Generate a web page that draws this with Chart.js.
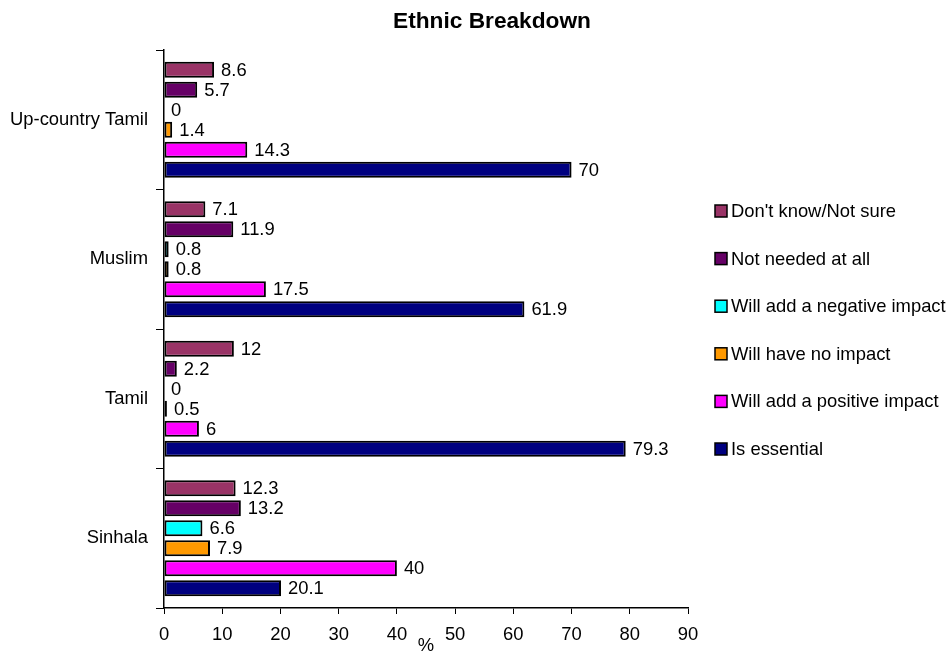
<!DOCTYPE html>
<html>
<head>
<meta charset="utf-8">
<script src="https://cdn.jsdelivr.net/npm/chart.js@4.4.1/dist/chart.umd.min.js"></script>
<style>
  html,body{margin:0;padding:0;background:#fff;}
  #wrap{width:951px;height:653px;position:relative;}
</style>
</head>
<body>
<div id="wrap"><canvas id="chart"></canvas></div>
<script>
// categories, top to bottom
const groups = ['Up-country Tamil','Muslim','Tamil','Sinhala'];
const seriesNames = ["Don't know/Not sure",'Not needed at all','Will add a negative impact','Will have no impact','Will add a positive impact','Is essential'];
const seriesColors = ['#993366','#660066','#00FFFF','#FF9900','#FF00FF','#000080'];
// values per series, one per group
const dontKnow  = [8.6, 7.1, 12, 12.3];
const notNeeded = [5.7, 11.9, 2.2, 13.2];
const negative  = [0, 0.8, 0, 6.6];
const noImpact  = [1.4, 0.8, 0.5, 7.9];
const positive  = [14.3, 17.5, 6, 40];
const essential = [70, 61.9, 79.3, 20.1];
const xTicks = [0,10,20,30,40,50,60,70,80,90];
const chartTitle = 'Ethnic Breakdown';

const seriesValues = [dontKnow, notNeeded, negative, noImpact, positive, essential];
const FONT = "'Liberation Sans', Arial, sans-serif";
const FS = 18.4;
Chart.defaults.font.family = FONT;
Chart.defaults.font.size = FS;
Chart.defaults.color = '#000';

const valueLabels = {
  id:'valueLabels',
  afterDatasetsDraw(chart){
    const ctx = chart.ctx;
    ctx.save();
    ctx.font = FS + 'px ' + FONT;
    ctx.fillStyle = '#000';
    ctx.textAlign = 'left';
    ctx.textBaseline = 'middle';
    chart.data.datasets.forEach((ds,i)=>{
      chart.getDatasetMeta(i).data.forEach((bar,j)=>{
        ctx.fillText(String(ds.data[j]), bar.x + 7, bar.y + 1);
      });
    });
    ctx.restore();
  }
};

// title sits a bit right of the canvas centre, as in the original
const topTitle = {
  id:'topTitle',
  afterDraw(chart){
    const ctx = chart.ctx;
    ctx.save();
    ctx.font = 'bold 22.7px ' + FONT;
    ctx.fillStyle = '#000';
    ctx.textAlign = 'center';
    ctx.textBaseline = 'middle';
    ctx.fillText(chartTitle, 492, 22);
    ctx.restore();
  }
};

const sideLegend = {
  id:'sideLegend',
  afterDraw(chart){
    const ctx = chart.ctx;
    const x0 = chart.chartArea.right + 27;
    ctx.save();
    ctx.font = FS + 'px ' + FONT;
    ctx.textAlign = 'left';
    ctx.textBaseline = 'middle';
    chart.data.datasets.forEach((ds,i)=>{
      const y = 211 + i*47.6;
      ctx.fillStyle = ds.backgroundColor;
      ctx.fillRect(x0, y-6, 12, 12);
      ctx.strokeStyle = '#000';
      ctx.lineWidth = 1.5;
      ctx.strokeRect(x0, y-6, 12, 12);
      ctx.fillStyle = '#000';
      ctx.fillText(ds.label, x0 + 16, y + 1);
    });
    ctx.restore();
  }
};

new Chart(document.getElementById('chart'), {
  type:'bar',
  data:{
    labels: groups,
    datasets: seriesNames.map((name,i)=>({
      label:name,
      data:seriesValues[i],
      backgroundColor:seriesColors[i],
      borderColor:'#000',
      borderWidth:2,
      borderSkipped:false,
      barPercentage:0.8,
      categoryPercentage:0.86
    }))
  },
  options:{
    indexAxis:'y',
    responsive:true,
    maintainAspectRatio:false,
    animation:false,
    layout:{padding:{left:0,right:263,top:50,bottom:0}},
    plugins:{
      legend:{display:false},
      tooltip:{enabled:false},
      title:{display:false}
    },
    scales:{
      x:{
        min:0,max:90,
        afterBuildTicks(scale){ scale.ticks = xTicks.map(v=>({value:v})); },
        afterFit(scale){ scale.height = 45; },
        grid:{drawOnChartArea:false,drawTicks:true,tickLength:6,color:'#000',lineWidth:1},
        border:{color:'#000',width:1.5},
        ticks:{padding:10,color:'#000',maxRotation:0},
        title:{display:true,text:'%',color:'#000',padding:{top:0,bottom:-4}}
      },
      y:{
        afterFit(scale){ scale.width = 164; },
        grid:{offset:true,drawOnChartArea:false,drawTicks:true,tickLength:8,color:'#000',lineWidth:1},
        border:{color:'#000',width:1.5},
        ticks:{padding:8,color:'#000'}
      }
    }
  },
  plugins:[valueLabels, topTitle, sideLegend]
});
</script>
</body>
</html>
